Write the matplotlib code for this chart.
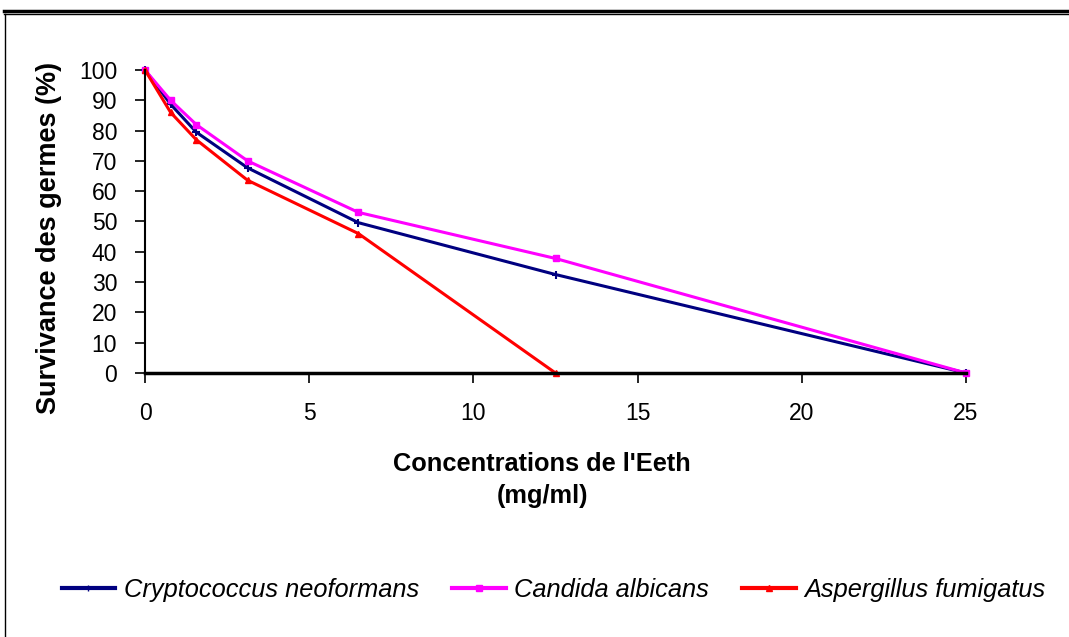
import matplotlib
matplotlib.use("Agg")
import matplotlib.pyplot as plt
from matplotlib.lines import Line2D

# concentrations (mg/ml) et survie (%)
concentrations = [0, 0.78, 1.56, 3.125, 6.5, 12.5, 25]
cryptococcus = [100, 88.7, 79.5, 67.7, 49.6, 32.5, 0]
candida = [100, 90, 82, 70, 53, 37.8, 0]
aspergillus_x = [0, 0.78, 1.56, 3.125, 6.5, 12.5]
aspergillus = [100, 86, 77, 63.6, 46, 0]

noms = ["Cryptococcus neoformans", "Candida albicans", "Aspergillus fumigatus"]
couleurs = ["#000080", "#FF00FF", "#FF0000"]

plt.rcParams['font.family'] = ['Liberation Sans', 'DejaVu Sans']

fig = plt.figure(figsize=(10.69, 6.37), dpi=100)
ax = fig.add_axes([145 / 1069, 1 - 373 / 637, (966 - 145) / 1069, (373 - 70) / 637])

ax.plot(concentrations, cryptococcus, color=couleurs[0], lw=2.2, marker='+', ms=6, mew=1.5, clip_on=False)
ax.plot(concentrations, candida, color=couleurs[1], lw=2.2, marker='s', ms=5, clip_on=False)
ax.plot(aspergillus_x, aspergillus, color=couleurs[2], lw=2.2, marker='^', ms=5, clip_on=False)

ax.set_xlim(0, 25)
ax.set_ylim(0, 100)
ax.set_xticks(range(0, 26, 5))
ax.set_yticks(range(0, 101, 10))
ax.spines['top'].set_visible(False)
ax.spines['right'].set_visible(False)
ax.spines['left'].set_linewidth(1.5)
ax.spines['bottom'].set_linewidth(2.5)
ax.tick_params(direction='out', length=7, width=1.2, labelsize=16.5, pad=13)
ax.tick_params(axis='x', pad=14)

ax.set_ylabel("Survivance des germes (%)", fontsize=19.5, fontweight='bold')
ax.yaxis.set_label_coords(-0.1017, 0.446)
ax.set_xlabel("Concentrations de l'Eeth\n(mg/ml)", fontsize=18.3, fontweight='bold', linespacing=1.4)
ax.xaxis.set_label_coords(0.4836, -0.262)

handles = [Line2D([], [], color=c, lw=3, marker=m, ms=5) for c, m in zip(couleurs, ['+', 's', '^'])]
fig.legend(handles, noms, loc='center', bbox_to_anchor=(0.518, 1 - 590 / 637), ncol=3,
           frameon=False, prop={'style': 'italic', 'size': 18.3}, handlelength=2.1,
           columnspacing=1.3, handletextpad=0.35)

# cadre extérieur
fig.add_artist(Line2D([4 / 1069, 1], [1 - 10.5 / 637] * 2, color='black', lw=2.5, transform=fig.transFigure))
fig.add_artist(Line2D([4 / 1069, 1], [1 - 13.5 / 637] * 2, color='black', lw=1, transform=fig.transFigure))
fig.add_artist(Line2D([5 / 1069] * 2, [0, 1 - 13.5 / 637], color='black', lw=1, transform=fig.transFigure))

fig.savefig("out.png", dpi=100)
